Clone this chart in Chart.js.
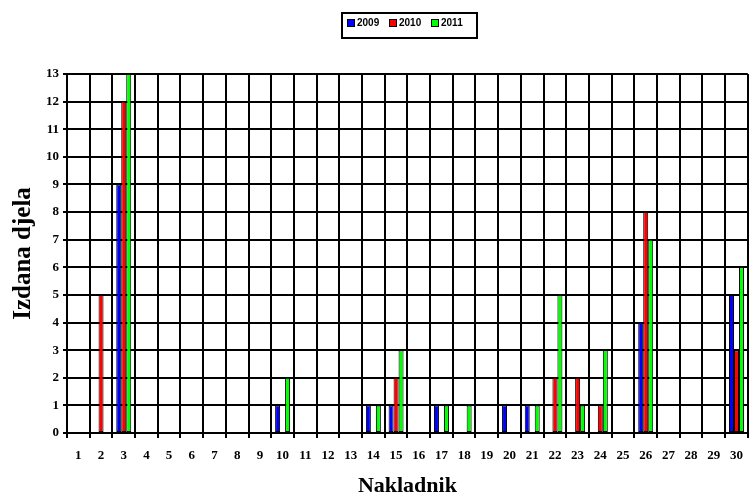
<!DOCTYPE html>
<html>
<head>
<meta charset="utf-8">
<script src="https://cdn.jsdelivr.net/npm/chart.js@4.4.1/dist/chart.umd.min.js"></script>
<style>
  html, body { margin: 0; padding: 0; background: #fff; overflow: hidden; }
  /* the source picture is cropped on the right, so the canvas runs a little past the window */
  #wrap { width: 753px; height: 497px; }
</style>
</head>
<body>
<div id="wrap"><canvas id="chart"></canvas></div>
<script>
const categories = ['1','2','3','4','5','6','7','8','9','10','11','12','13','14','15',
                    '16','17','18','19','20','21','22','23','24','25','26','27','28','29','30'];
const values2009 = [null,null,9,null,null,null,null,null,null,1,null,null,null,1,1,
                    null,1,null,null,1,1,null,null,null,null,4,null,null,null,5];
const values2010 = [null,5,12,null,null,null,null,null,null,null,null,null,null,null,2,
                    null,null,null,null,null,null,2,2,1,null,8,null,null,null,3];
const values2011 = [null,null,13,null,null,null,null,null,null,2,null,null,null,1,3,
                    null,1,1,null,null,1,5,1,3,null,7,null,null,null,6];
const yTicks = [0,1,2,3,4,5,6,7,8,9,10,11,12,13];

// legend drawn inside a framed box, like the original spreadsheet chart
const boxLegend = {
    id: 'boxLegend',
    afterDraw(chart) {
        const { ctx, chartArea } = chart;
        const left = chartArea.left + 275;
        const top = 13;
        ctx.save();
        ctx.lineWidth = 2;
        ctx.strokeStyle = '#000';
        ctx.strokeRect(left, top, 135, 25);
        ctx.font = 'bold 10px "Liberation Sans", Arial, sans-serif';
        ctx.textBaseline = 'middle';
        chart.data.datasets.forEach((ds, i) => {
            const x = left + 5 + i * 42;
            ctx.fillStyle = ds.backgroundColor;
            ctx.fillRect(x, top + 6, 8, 8);
            ctx.lineWidth = 1;
            ctx.strokeRect(x + 0.5, top + 6.5, 7, 7);
            ctx.fillStyle = '#000';
            ctx.fillText(ds.label, x + 10, top + 10.5);
        });
        ctx.restore();
    }
};

const serif = '"Liberation Serif", "Times New Roman", serif';
const tickFont = { family: serif, weight: 'bold', size: 13 };

new Chart(document.getElementById('chart'), {
    type: 'bar',
    data: {
        labels: categories,
        datasets: [
            { label: '2009', data: values2009, backgroundColor: '#0000ff' },
            { label: '2010', data: values2010, backgroundColor: '#ff0000' },
            { label: '2011', data: values2011, backgroundColor: '#00ff00' },
        ].map(ds => ({ ...ds, borderColor: '#000', borderWidth: 1, borderSkipped: false,
                        categoryPercentage: 0.66, barPercentage: 1 })),
    },
    options: {
        animation: false,
        responsive: true,
        maintainAspectRatio: false,
        layout: { padding: { top: 74, right: 1, left: 0, bottom: 0 } },
        scales: {
            x: {
                grid: { color: '#000', lineWidth: 2, tickLength: 5, offset: true },
                border: { color: '#000', width: 2 },
                ticks: { color: '#000', font: tickFont, padding: 10, maxRotation: 0, autoSkip: false },
                title: { display: true, text: 'Nakladnik', color: '#000',
                         font: { family: serif, weight: 'bold', size: 22, lineHeight: 1 },
                         padding: { top: 0, bottom: 0 } },
                afterFit: (scale) => { scale.height = 64; },
            },
            y: {
                min: 0,
                max: 13,
                afterBuildTicks: (scale) => { scale.ticks = yTicks.map(v => ({ value: v })); },
                grid: { color: '#000', lineWidth: 2, tickLength: 4 },
                border: { color: '#000', width: 2 },
                ticks: { color: '#000', font: tickFont, padding: 4 },
                title: { display: true, text: 'Izdana djela', color: '#000',
                         font: { family: serif, weight: 'bold', size: 25, lineHeight: 1 },
                         padding: { top: 11, bottom: 0 } },
                afterFit: (scale) => { scale.width = 67; },
            },
        },
        plugins: {
            legend: { display: false },
            tooltip: { enabled: false },
        },
    },
    plugins: [boxLegend],
});
</script>
</body>
</html>
